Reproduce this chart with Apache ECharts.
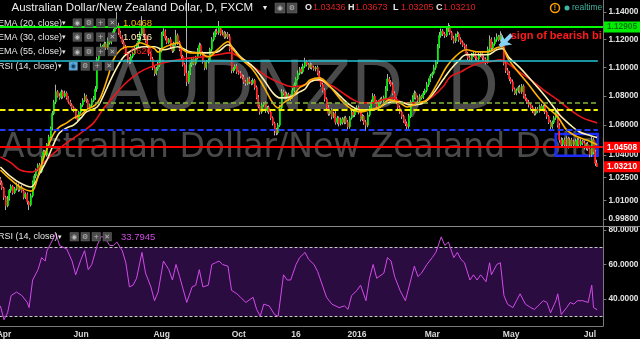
<!DOCTYPE html>
<html><head><meta charset="utf-8">
<script src="https://cdn.jsdelivr.net/npm/echarts@6/dist/echarts.min.js"></script>
<style>html,body{margin:0;padding:0;background:#000;overflow:hidden}#c{width:640px;height:339px}</style>
</head><body><div id="c"></div><script>
// ---------------- data ----------------
const startDate = '2015-03-30';           // first daily bar (weekdays only)
const firstOpen = 1.0240;
const closes = [
1.0215,1.0180,1.0120,1.0065,1.0110,1.0165,1.0190,1.0150,1.0175,1.0200,
1.0170,1.0185,1.0160,1.0120,1.0140,1.0090,1.0070,1.0130,1.0220,1.0260,
1.0300,1.0330,1.0290,1.0380,1.0420,1.0400,1.0470,1.0520,1.0580,1.0680,
1.0760,1.0830,1.0800,1.0790,1.0830,1.0800,1.0820,1.0790,1.0760,1.0740,
1.0720,1.0700,1.0660,1.0640,1.0690,1.0740,1.0770,1.0800,1.0770,1.0720,
1.0740,1.0770,1.0790,1.0850,1.1060,1.1100,1.1150,1.1120,1.1170,1.1140,
1.1200,1.1180,1.1230,1.1260,1.1290,1.1300,1.1250,1.1220,1.1180,1.1150,
1.1100,1.1060,1.1040,1.1080,1.1100,1.1140,1.1160,1.1190,1.1240,1.1280,
1.1230,1.1190,1.1150,1.1100,1.1060,1.1000,1.0960,1.0990,1.1020,1.1120,
1.1240,1.1260,1.1210,1.1180,1.1200,1.1150,1.1120,1.1170,1.1230,1.1180,
1.1130,1.1080,1.1020,1.0960,1.0900,1.0960,1.1020,1.1060,1.1030,1.1070,
1.1120,1.1160,1.1100,1.1040,1.1000,1.1040,1.1050,1.1130,1.1200,1.1230,
1.1260,1.1250,1.1280,1.1240,1.1250,1.1220,1.1240,1.1220,1.1130,1.0980,
1.0990,1.1010,1.0970,1.0960,1.0940,1.0930,1.0900,1.0890,1.0920,1.0900,
1.0890,1.0910,1.0860,1.0790,1.0730,1.0690,1.0740,1.0750,1.0700,1.0720,
1.0690,1.0650,1.0610,1.0570,1.0550,1.0600,1.0720,1.0830,1.0820,1.0790,
1.0810,1.0780,1.0800,1.0840,1.0880,1.0920,1.0960,1.0990,1.0970,1.1010,
1.1040,1.1020,1.1000,1.1020,1.1000,1.0990,1.1000,1.0960,1.0920,1.0880,
1.0840,1.0780,1.0720,1.0680,1.0700,1.0660,1.0680,1.0620,1.0650,1.0610,
1.0640,1.0620,1.0650,1.0620,1.0590,1.0650,1.0690,1.0670,1.0700,1.0720,
1.0690,1.0640,1.0660,1.0620,1.0600,1.0670,1.0720,1.0760,1.0800,1.0760,
1.0730,1.0760,1.0780,1.0770,1.0790,1.0850,1.0920,1.0900,1.0880,1.0820,
1.0780,1.0760,1.0720,1.0690,1.0660,1.0630,1.0610,1.0590,1.0660,1.0760,
1.0790,1.0820,1.0790,1.0770,1.0800,1.0790,1.0820,1.0840,1.0880,1.0910,
1.0940,1.0960,1.1000,1.1040,1.1150,1.1230,1.1260,1.1240,1.1230,1.1270,
1.1290,1.1250,1.1210,1.1190,1.1230,1.1240,1.1200,1.1180,1.1160,1.1150,
1.1100,1.1070,1.1060,1.1090,1.1100,1.1070,1.1060,1.1090,1.1100,1.1070,
1.1060,1.1040,1.1130,1.1200,1.1140,1.1170,1.1200,1.1220,1.1200,1.1230,
1.1180,1.1030,1.0980,1.0960,1.0920,1.0900,1.0850,1.0820,1.0840,1.0860,
1.0830,1.0870,1.0800,1.0780,1.0760,1.0740,1.0720,1.0700,1.0680,1.0710,
1.0700,1.0730,1.0710,1.0730,1.0690,1.0660,1.0620,1.0590,1.0620,1.0650,
1.0700,1.0600,1.0500,1.0470,1.0500,1.0470,1.0510,1.0460,1.0500,1.0470,
1.0490,1.0460,1.0500,1.0470,1.0490,1.0480,1.0450,1.0470,1.0440,1.0400,
1.0500,1.0420,1.03436,1.03210];
// upper / lower wick lengths in pips
const hiWick = [
12,15,8,10,18,9,14,10,12,16, 10,8,14,9,12,11,7,15,10,13, 9,12,16,10,14,12,9,15,11,18,
14,50,12,20,16,10,18,12,9,14, 11,10,15,12,9,13,16,20,10,12, 9,14,11,20,18,15,22,12,16,14,
15,20,12,18,25,100,22,14,12,16, 13,10,15,18,12,16,14,20,18,90, 15,12,18,10,14,16,12,15,20,18,
15,22,14,16,12,18,10,15,40,14, 12,16,10,14,530,18,15,12,16,14, 20,18,12,15,10,14,16,12,18,22,
15,20,55,14,18,12,16,14,20,18, 14,12,16,10,15,12,18,14,10,16, 12,15,10,14,18,12,16,10,14,12,
15,12,10,14,12,16,18,20,15,12, 16,14,12,18,15,12,20,14,16,18, 30,15,12,16,10,14,12,15,18,12,
14,16,12,18,10,15,12,16,14,10, 12,15,10,14,16,12,18,14,12,16, 14,12,16,10,15,18,12,16,20,14,
12,15,10,16,14,20,35,15,12,16, 14,12,10,16,14,12,10,15,18,14, 16,20,12,15,14,10,16,12,18,14,
16,12,20,14,18,25,20,16,14,18, 30,16,12,18,14,20,12,16,14,12, 15,12,16,14,18,12,10,15,14,12,
16,14,20,30,16,14,18,25,14,30, 14,16,12,18,14,12,16,10,14,12, 18,14,12,16,10,14,12,15,12,16,
14,12,16,10,14,12,10,15,12,14, 12,16,14,18,12,16,14,12,16,14, 12,18,14,12,16,10,14,12,16,14,
20,14,12,23.7];
const loWick = [
14,12,18,28,10,12,16,14,10,12, 15,12,10,14,12,18,33,10,12,14, 16,10,14,12,15,10,12,14,10,16,
12,15,10,14,12,16,10,14,12,10, 14,12,16,20,10,12,14,10,16,12, 10,14,12,16,20,14,12,16,10,14,
12,16,14,10,15,12,16,14,12,18, 14,25,16,12,14,10,12,14,16,12, 14,12,10,16,12,18,20,14,12,16,
12,14,16,12,10,14,16,12,14,18, 14,16,12,18,30,14,12,16,10,14, 12,14,16,12,18,14,10,12,16,14,
12,14,16,12,10,14,12,16,14,20, 16,12,14,10,16,12,14,18,12,16, 14,10,16,12,14,18,12,14,16,12,
14,16,12,40,18,14,12,16,14,12, 10,14,12,16,14,12,10,14,16,12, 14,12,16,10,14,12,16,14,12,16,
14,18,12,16,14,20,12,16,14,18, 12,16,14,12,18,14,12,16,14,12, 16,14,12,18,40,14,12,16,14,12,
14,12,16,14,12,10,14,16,12,14, 12,16,14,12,18,14,16,25,14,12, 16,12,14,16,12,14,10,12,14,16,
12,14,10,16,14,12,16,14,18,12, 14,16,12,18,14,12,16,14,12,16, 14,16,12,18,14,16,12,14,16,20,
14,18,12,14,16,12,14,16,12,14, 16,14,18,12,16,14,18,12,14,16, 12,14,16,12,14,18,12,16,14,12,
16,14,12,16,14,18,12,20,14,12, 14,16,18,14,12,16,14,18,12,16, 14,12,16,14,12,16,14,20,14,16,
14,16,18,0.52];
// indicator lines: [bar index, value]
const ema20Pts = [[0,1.0299],[6,1.0233],[11,1.0187],[17,1.0160],[19,1.0180],[22,1.0300],[26,1.0440],[30,1.0548],[33,1.0588],[37,1.0616],[41,1.0650],[45,1.0671],[48,1.0705],[53,1.0739],[56,1.0795],[60,1.0935],[63,1.1055],[67,1.1127],[71,1.1149],[74,1.1149],[78,1.1177],[82,1.1160],[86,1.1135],[88,1.1110],[91,1.1141],[95,1.1163],[99,1.1177],[102,1.1127],[106,1.1105],[111,1.1105],[116,1.1076],[121,1.1127],[127,1.1185],[130,1.1127],[135,1.1055],[141,1.0984],[147,1.0865],[152,1.0753],[155,1.0719],[158,1.0753],[163,1.0795],[167,1.0860],[170,1.0880],[173,1.0914],[178,1.0928],[184,1.0865],[190,1.0774],[195,1.0719],[201,1.0691],[206,1.0705],[212,1.0725],[217,1.0774],[223,1.0753],[227,1.0725],[233,1.0753],[238,1.0774],[244,1.0893],[249,1.1006],[254,1.1080],[260,1.1127],[266,1.1112],[272,1.1112],[277,1.1141],[280,1.1149],[283,1.1069],[288,1.0984],[294,1.0893],[300,1.0795],[305,1.0725],[311,1.0657],[316,1.0568],[322,1.0521],[327,1.0500],[333,1.0468]];
const ema30Pts = [[0,1.0319],[6,1.0253],[11,1.0213],[17,1.0187],[22,1.0279],[26,1.0366],[30,1.0480],[33,1.0548],[37,1.0582],[41,1.0602],[45,1.0650],[48,1.0691],[54,1.0725],[57,1.0790],[61,1.0900],[65,1.1000],[69,1.1080],[74,1.1127],[80,1.1149],[86,1.1149],[91,1.1127],[99,1.1149],[106,1.1112],[113,1.1105],[121,1.1112],[127,1.1163],[134,1.1076],[141,1.1006],[147,1.0914],[152,1.0823],[156,1.0788],[162,1.0795],[167,1.0830],[170,1.0850],[173,1.0900],[178,1.0914],[184,1.0865],[190,1.0795],[195,1.0739],[201,1.0705],[208,1.0705],[216,1.0753],[223,1.0760],[229,1.0739],[236,1.0753],[241,1.0809],[247,1.0914],[251,1.0984],[255,1.1040],[260,1.1091],[266,1.1091],[272,1.1091],[277,1.1127],[280,1.1134],[284,1.1069],[290,1.0998],[296,1.0914],[301,1.0844],[307,1.0753],[312,1.0671],[318,1.0602],[323,1.0555],[329,1.0530],[333,1.0516]];
const ema55Pts = [[0,1.0386],[6,1.0346],[11,1.0299],[18,1.0286],[24,1.0346],[30,1.0413],[37,1.0480],[45,1.0548],[52,1.0616],[57,1.0705],[63,1.0795],[69,1.0879],[74,1.0935],[80,1.0984],[86,1.1015],[91,1.1034],[99,1.1055],[106,1.1069],[113,1.1076],[121,1.1091],[128,1.1105],[134,1.1069],[141,1.1006],[149,1.0935],[156,1.0893],[163,1.0865],[170,1.0879],[175,1.0914],[180,1.0900],[186,1.0865],[191,1.0823],[197,1.0774],[202,1.0753],[208,1.0753],[213,1.0774],[219,1.0788],[225,1.0753],[230,1.0753],[236,1.0760],[241,1.0795],[247,1.0865],[251,1.0935],[257,1.0970],[262,1.1006],[268,1.1034],[273,1.1041],[279,1.1055],[282,1.1041],[288,1.0984],[296,1.0914],[303,1.0844],[311,1.0774],[318,1.0705],[325,1.0650],[333,1.0616]];
const rsiPts = [[0,36],[2,28],[4,32],[6,42],[9,44],[12,42],[15,38],[16,35],[18,51],[21,57],[23,64],[25,62],[26,68],[28,72],[31,78],[33,71],[37,69],[40,62],[42,54],[45,63],[47,68],[49,57],[51,60],[54,71],[56,76],[58,76],[61,71],[63,71],[65,73],[68,68],[70,61],[72,47],[74,48],[76,52],[79,67],[81,55],[84,47],[86,39],[88,44],[91,62],[94,57],[96,51],[98,60],[100,53],[104,38],[107,47],[109,48],[111,57],[113,47],[116,48],[118,60],[120,61],[122,62],[124,60],[127,59],[129,45],[132,43],[134,41],[137,38],[141,41],[143,34],[145,30],[147,37],[150,36],[153,31],[155,30],[158,54],[160,51],[162,51],[165,60],[167,64],[170,67],[172,63],[175,60],[177,56],[180,47],[182,41],[185,37],[189,35],[192,36],[194,34],[196,42],[199,45],[201,48],[204,39],[206,52],[208,60],[210,52],[214,55],[216,64],[218,62],[220,53],[223,45],[226,39],[229,51],[231,59],[233,53],[235,55],[238,60],[241,64],[243,67],[246,76],[248,71],[250,73],[253,64],[255,67],[257,63],[259,61],[262,51],[264,54],[266,51],[268,54],[271,50],[273,61],[274,54],[277,60],[279,61],[281,42],[283,37],[286,35],[288,39],[290,43],[293,37],[296,35],[298,34],[301,37],[303,39],[305,38],[307,32],[310,39],[311,43],[313,31],[316,35],[318,38],[320,37],[322,39],[325,39],[328,38],[330,48],[331,35],[333,33.79]];
// drawn levels / annotations (price values)
const levelGreen = 1.12905, levelCyan = 1.1052, levelOlive = 1.0753, levelYellow = 1.0708, levelBlue = 1.0568, levelRed = 1.04508;
const boxBars = [309.9, 333.3], boxPrices = [1.0540, 1.0393];
const arrowFrom = [285.3, 1.1235], arrowTo = [278.8, 1.1151];
const noteAt = [284.8, 1.1228];
const rsiBand = [30, 70];
// axes
const priceTicks = [0.998, 1.01, 1.025, 1.04, 1.06, 1.08, 1.10, 1.12, 1.14];
const priceMin = 0.99345, priceMax = 1.1489;
const rsiTicks = [40, 60, 80];
const rsiMin = 24.35, rsiMax = 82.3;
const xTickLabels = [['2015-04-01','Apr'],['2015-06-01','Jun'],['2015-08-03','Aug'],['2015-10-01','Oct'],['2015-11-16','16'],['2016-01-01','2016'],['2016-03-01','Mar'],['2016-05-02','May'],['2016-07-01','Jul']];
const emptySlots = 3;
// ---------------- build ----------------
const L = Math.log;  // logarithmic price scale
const dates = [];
{ let t = Date.parse(startDate + 'T00:00:00Z');
  while (dates.length < closes.length + emptySlots) { const d = new Date(t); const wd = d.getUTCDay(); if (wd !== 0 && wd !== 6) dates.push(d.toISOString().slice(0,10)); t += 86400000; } }
const xLabelMap = new Map(xTickLabels);
const N = dates.length;
const opens = [firstOpen].concat(closes.slice(0, -1));
const wickData = closes.map((c,i)=>{const o=opens[i]; return [L(o),L(c),L(Math.min(o,c)-loWick[i]/1e4),L(Math.max(o,c)+hiWick[i]/1e4)];});
const bodyData = closes.map((c,i)=>{const o=opens[i]; return [L(o),L(c),L(Math.min(o,c)),L(Math.max(o,c))];});
const toLog = pts => pts.map(p=>[p[0], L(p[1])]);
const FONT = '"Liberation Sans", Arial, sans-serif';
const xL = -0.5, xR = N - 0.5, xEnd = 333.4;
function hline(x1, x2, v, color, width, type){ return [{coord:[x1, L(v)], lineStyle:{color, width, type}}, {coord:[x2, L(v)]}]; }

const option = {
  backgroundColor: '#000', animation: false,
  grid: [{left:-0.5, top:0, width:603.9, height:226, containLabel:false, outerBoundsMode:'none'},
         {left:-0.5, top:226, width:603.9, height:100, containLabel:false, outerBoundsMode:'none'}],
  xAxis: [
    {type:'category', gridIndex:0, data:dates, boundaryGap:true, show:false},
    {type:'value', gridIndex:0, min:xL, max:xR, show:false},
    {type:'category', gridIndex:1, data:dates, boundaryGap:true,
      axisLine:{lineStyle:{color:'#7a7a7a'}}, axisTick:{show:false}, splitLine:{show:false},
      axisLabel:{interval:(i,v)=>xLabelMap.has(v), formatter:v=>xLabelMap.get(v)||'', color:'#d8d8d8', fontSize:8.5, fontWeight:'bold', margin:4, fontFamily:FONT}},
    {type:'value', gridIndex:1, min:xL, max:xR, show:false}
  ],
  yAxis: [
    {type:'value', gridIndex:0, position:'right', min:L(priceMin), max:L(priceMax), z:60,
      axisLine:{show:true, onZero:false, lineStyle:{color:'#7a7a7a'}}, splitLine:{show:false},
      axisTick:{show:true, length:3, lineStyle:{color:'#7a7a7a'}, customValues:priceTicks.map(L)},
      axisLabel:{customValues:priceTicks.map(L), formatter:v=>Math.exp(v).toFixed(5), color:'#e2e2e2', fontSize:8.3, fontWeight:'bold', margin:5, fontFamily:FONT}},
    {type:'value', gridIndex:1, position:'right', min:rsiMin, max:rsiMax, z:60,
      axisLine:{show:true, onZero:false, lineStyle:{color:'#7a7a7a'}}, splitLine:{show:false},
      axisTick:{show:true, length:3, lineStyle:{color:'#7a7a7a'}, customValues:rsiTicks},
      axisLabel:{customValues:rsiTicks, formatter:v=>v.toFixed(4), color:'#e2e2e2', fontSize:8.3, fontWeight:'bold', margin:5, fontFamily:FONT}}
  ],
  series: [
    {type:'candlestick', name:'wicks', xAxisIndex:0, yAxisIndex:0, data:wickData, barWidth:0.6, silent:true,
      itemStyle:{color:'#b0b0b0', color0:'#b0b0b0', borderColor:'#b0b0b0', borderColor0:'#b0b0b0', borderColorDoji:'#b0b0b0', borderWidth:1}},
    {type:'candlestick', name:'AUDNZD', xAxisIndex:0, yAxisIndex:0, data:bodyData, barWidth:1.5, silent:true,
      itemStyle:{color:'#00ee00', color0:'#ff1a1a', borderColor:'#00ee00', borderColor0:'#ff1a1a', borderColorDoji:'#b0b0b0', borderWidth:0.7}},
    {type:'line', name:'EMA 55', xAxisIndex:1, yAxisIndex:0, data:toLog(ema55Pts), showSymbol:false, smooth:0.35, silent:true,
      lineStyle:{color:'#e8161b', width:1.6},
      markArea:{silent:true, itemStyle:{color:'rgba(0,0,0,0)', borderColor:'#1a2cff', borderWidth:2.5},
        data:[[{coord:[boxBars[0], L(boxPrices[0])]}, {coord:[boxBars[1], L(boxPrices[1])]}]]},
      markLine:{silent:true, animation:false, symbol:['none','none'], label:{show:false},
        data:[
          hline(xL, xR, levelGreen, '#00ff00', 2, 'solid'),
          hline(xL, xEnd, levelCyan, '#22c6d6', 1.5, 'solid'),
          hline(52.8, xEnd, levelOlive, '#86b83c', 1.5, [5,3]),
          hline(xL, xEnd, levelYellow, '#f2f200', 2, [6,3]),
          hline(xL, xEnd, levelBlue, '#1f3cff', 2, [6,3]),
          hline(xL, xR, levelRed, '#ff0000', 2, 'solid'),
          [{coord:[arrowFrom[0], L(arrowFrom[1])], symbol:'none', lineStyle:{color:'#86d3f7', width:4, type:'solid'}},
           {coord:[arrowTo[0], L(arrowTo[1])], symbol:'arrow', symbolSize:[11,10]}]
        ]}},
    {type:'line', name:'EMA 30', xAxisIndex:1, yAxisIndex:0, data:toLog(ema30Pts), showSymbol:false, smooth:0.35, silent:true,
      lineStyle:{color:'#fff2b0', width:1.6}},
    {type:'line', name:'EMA 20', xAxisIndex:1, yAxisIndex:0, data:toLog(ema20Pts), showSymbol:false, smooth:0.35, silent:true,
      lineStyle:{color:'#ffb300', width:1.6}},
    {type:'line', name:'RSI', xAxisIndex:3, yAxisIndex:1, data:rsiPts, showSymbol:false, silent:true, z:3,
      lineStyle:{color:'#d24be8', width:1}}
  ]
};
const chart = echarts.init(document.getElementById('c'));
chart.setOption(option);

// ---------------- overlay texts & bands (positioned through the axes) ----------------
function txt(x, y, text, fill, size, extra){ return {type:'text', x, y, z:100, silent:true,
  style:{text, fill, font:(extra&&extra.weight?extra.weight+' ':'')+size+'px '+((extra&&extra.family)||FONT), textAlign:(extra&&extra.align)||'left', align:(extra&&extra.align)||'left', textVerticalAlign:'middle', verticalAlign:'middle'}}; }
function icons(x0, y, step, hl){ const g=['◉','⚙','+','✕']; const out=[];
  g.forEach((s,k)=>{ const x=x0+k*step; out.push({type:'rect', z:100, silent:true, shape:{x, y:y-4.5, width:8.5, height:8.5}, style:{fill:(hl&&k===0)?'#55aee8':'#4a4a4a', stroke:'#6a6a6a', lineWidth:0.5}});
    out.push(txt(x+4.25, y, s, (hl&&k===0)?'#163a5a':'#bdbdbd', 7, {align:'center', family:'"DejaVu Sans", sans-serif'})); });
  return out; }
const yP = v => chart.convertToPixel({yAxisIndex:0}, L(v));
const rP = v => chart.convertToPixel({yAxisIndex:1}, v);
const xLeftPx = chart.convertToPixel({xAxisIndex:3}, xL), xRightPx = chart.convertToPixel({xAxisIndex:3}, xR);
function tag(v, bg, fg){ const y=yP(v); return [
  {type:'rect', z:70, silent:true, shape:{x:604, y:y-5.5, width:36, height:11}, style:{fill:bg}},
  txt(622, y, v.toFixed(5), fg, 8.3, {align:'center', weight:'bold'})]; }
const note = chart.convertToPixel({xAxisIndex:1, yAxisIndex:0}, [noteAt[0], L(noteAt[1])]);
const WM = '"DejaVu Sans", sans-serif';
const lastO = opens[opens.length-1], lastC = closes[closes.length-1];
const bandTop = rP(rsiBand[1]), bandBot = rP(rsiBand[0]);
const graphics = [
  {type:'rect', z:0, silent:true, shape:{x:xLeftPx, y:bandTop, width:xRightPx-xLeftPx, height:bandBot-bandTop}, style:{fill:'#2a0c40'}},
  {type:'line', z:1, silent:true, shape:{x1:xLeftPx, y1:Math.round(bandTop)+0.5, x2:xRightPx, y2:Math.round(bandTop)+0.5}, style:{stroke:'#c8c8c8', lineWidth:1, lineDash:[3,2]}},
  {type:'line', z:1, silent:true, shape:{x1:xLeftPx, y1:Math.round(bandBot)+0.5, x2:xRightPx, y2:Math.round(bandBot)+0.5}, style:{stroke:'#c8c8c8', lineWidth:1, lineDash:[3,2]}},
  {type:'text', x:105, y:91, z:0, silent:true, style:{text:'AUDNZD, D', fill:'#4a4a4a', font:'68px '+WM, textVerticalAlign:'middle', verticalAlign:'middle'}},
  {type:'text', x:2, y:148.5, z:0, silent:true, style:{text:'Australian Dollar/New Zealand Dollar', fill:'#4a4a4a', font:'33px '+WM, textVerticalAlign:'middle', verticalAlign:'middle'}},
  txt(note[0], note[1], 'sign of bearish bi', '#ff1a1a', 11, {weight:'bold'}),
  {type:'rect', z:50, silent:true, shape:{x:603.6, y:0, width:37, height:339}, style:{fill:'#000'}},
  {type:'line', z:70, silent:true, shape:{x1:0, y1:226.5, x2:640, y2:226.5}, style:{stroke:'#8a8a8a', lineWidth:1}},
  ...tag(levelGreen, '#00ee00', '#0a7a0a'),
  ...tag(levelRed, '#ff0000', '#ffffff'),
  ...tag(lastC, '#ff0000', '#ffffff'),
  // header
  txt(11.5, 7.5, 'Australian Dollar/New Zealand Dollar, D, FXCM', '#ececec', 11.5),
  txt(263, 7.5, '▾', '#ececec', 8, {family:'"DejaVu Sans", sans-serif'}),
  {type:'rect', z:100, silent:true, shape:{x:275, y:3, width:10, height:10}, style:{fill:'#4a4a4a', stroke:'#6a6a6a', lineWidth:0.5}},
  {type:'rect', z:100, silent:true, shape:{x:287, y:3, width:10, height:10}, style:{fill:'#4a4a4a', stroke:'#6a6a6a', lineWidth:0.5}},
  txt(280, 8, '◉', '#bdbdbd', 7, {align:'center', family:'"DejaVu Sans", sans-serif'}),
  txt(292, 8, '⚙', '#bdbdbd', 7, {align:'center', family:'"DejaVu Sans", sans-serif'}),
  txt(305, 8, 'O', '#ececec', 9, {weight:'bold'}), txt(313, 8, lastO.toFixed(5), '#e02020', 9),
  txt(348, 8, 'H', '#ececec', 9, {weight:'bold'}), txt(355, 8, (Math.max(lastO,lastC)+hiWick[hiWick.length-1]/1e4).toFixed(5), '#e02020', 9),
  txt(393, 8, 'L', '#ececec', 9, {weight:'bold'}), txt(401, 8, (Math.min(lastO,lastC)-loWick[loWick.length-1]/1e4).toFixed(5), '#e02020', 9),
  txt(436, 8, 'C', '#ececec', 9, {weight:'bold'}), txt(443, 8, lastC.toFixed(5), '#e02020', 9),
  {type:'circle', z:100, silent:true, shape:{cx:555, cy:8, r:4.5}, style:{fill:'none', stroke:'#ffa000', lineWidth:1.5}},
  txt(555, 8, '!', '#ffa000', 7, {align:'center', weight:'bold'}),
  {type:'circle', z:100, silent:true, shape:{cx:567, cy:8, r:2.5}, style:{fill:'#3fb5a3'}},
  txt(572, 8, 'realtime', '#3fb5a3', 8.5),
  // indicator legend rows
  txt(-2, 23.3, 'EMA (20, close)', '#e6e6e6', 9), txt(62, 23.3, '▾', '#e6e6e6', 7, {family:'"DejaVu Sans", sans-serif'}),
  ...icons(73, 23.3, 11.7, false), txt(123, 23.3, ema20Pts[ema20Pts.length-1][1].toFixed(4), '#ffb300', 9.5),
  txt(-2, 37.3, 'EMA (30, close)', '#e6e6e6', 9), txt(62, 37.3, '▾', '#e6e6e6', 7, {family:'"DejaVu Sans", sans-serif'}),
  ...icons(73, 37.3, 11.7, false), txt(123, 37.3, ema30Pts[ema30Pts.length-1][1].toFixed(4), '#fff2b0', 9.5),
  txt(-2, 51.7, 'EMA (55, close)', '#e6e6e6', 9), txt(62, 51.7, '▾', '#e6e6e6', 7, {family:'"DejaVu Sans", sans-serif'}),
  ...icons(73, 51.7, 11.7, false), txt(123, 51.7, '1.0620', '#ff2020', 9.5),
  txt(-2, 66.3, 'RSI (14, close)', '#e6e6e6', 9), txt(58, 66.3, '▾', '#e6e6e6', 7, {family:'"DejaVu Sans", sans-serif'}),
  ...icons(69, 66.3, 12, true),
  txt(-2, 237, 'RSI (14, close)', '#e6e6e6', 9), txt(58, 237, '▾', '#e6e6e6', 7, {family:'"DejaVu Sans", sans-serif'}),
  ...icons(70, 237, 11, false), txt(121, 237, '33.7945', '#d24be8', 9.5)
];
chart.setOption({graphic: graphics});
</script></body></html>
